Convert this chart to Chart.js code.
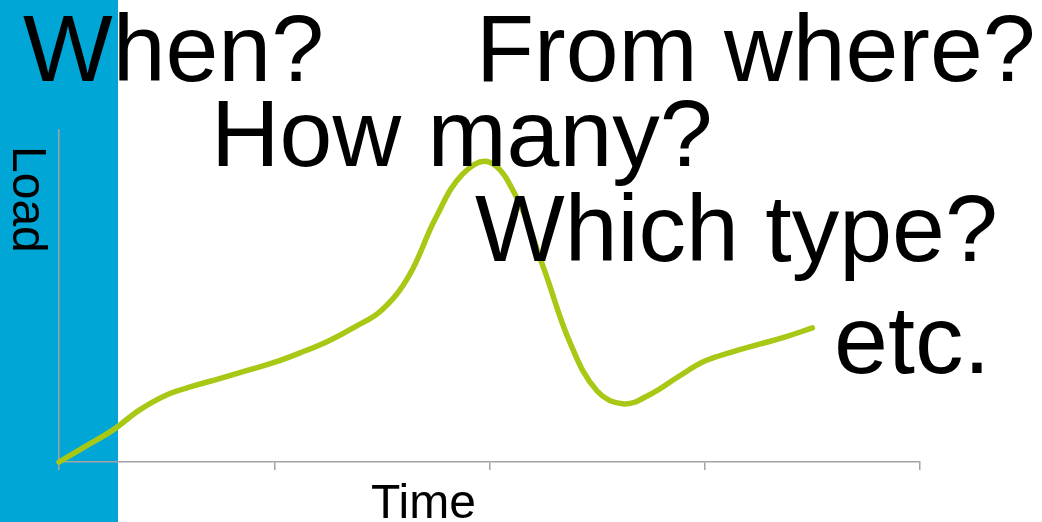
<!DOCTYPE html>
<html>
<head>
<meta charset="utf-8">
<script src="https://cdn.jsdelivr.net/npm/chart.js@4/dist/chart.umd.min.js"></script>
<style>
  html, body { margin: 0; padding: 0; background: #ffffff; }
  #stage { position: relative; width: 1042px; height: 522px; overflow: hidden; }
  #band { position: absolute; left: 0; top: 0; width: 118px; height: 522px; background: #00A6D6; }
  #wrap { position: absolute; left: 0; top: 0; width: 1042px; height: 522px; }
  .q { position: absolute; font-family: "Liberation Sans", Arial, sans-serif; color: #000;
       line-height: 1; white-space: nowrap; font-size: 95px; }
  .axis-label { position: absolute; font-family: "Liberation Sans", Arial, sans-serif; color: #000;
       line-height: 1; white-space: nowrap; font-size: 48px; }
  #load { transform: rotate(90deg); transform-origin: 0 0; }
</style>
</head>
<body>
<div id="stage">
  <div id="band"></div>
  <div id="wrap"><canvas id="chart"></canvas></div>
  <div class="q" style="left:23px; top:1px;">When?</div>
  <div class="q" style="left:476px; top:1px;">From where?</div>
  <div class="q" style="left:211px; top:86px;">How many?</div>
  <div class="q" style="left:475px; top:181px;">Which type?</div>
  <div class="q" style="left:834px; top:291px; font-size:97px;">etc.</div>
  <div class="axis-label" id="load" style="left:53px; top:146px;">Load</div>
  <div class="axis-label" style="left:371px; top:478px;">Time</div>
</div>
<script>
// Load sampled every eighth of a time unit: slow rise, sharp peak, dip, recovery
const timeSteps = [0, 0.125, 0.25, 0.375, 0.5, 0.625, 0.75, 0.875, 1.0, 1.125,
                   1.25, 1.375, 1.5, 1.625, 1.75, 1.875, 2.0, 2.125, 2.25, 2.375,
                   2.5, 2.625, 2.75, 2.875, 3.0, 3.125, 3.25, 3.375, 3.5];
const loadValues = [0, 4.8, 9.6, 15.7, 20.2, 22.9, 25.2, 27.6, 30.0, 33.0,
                    36.4, 40.7, 45.8, 56.0, 73.5, 86.7, 90.3, 79.8, 58.7, 35.8,
                    21.4, 17.5, 20.5, 25.6, 30.4, 33.1, 35.4, 37.7, 40.4];
const timeTicks = [0, 1, 2, 3, 4];
const loadRange = [0, 100];

const points = timeSteps.map((t, i) => ({ x: t, y: loadValues[i] }));
const axisGrey = '#A3A3A3';

new Chart(document.getElementById('chart'), {
  type: 'line',
  data: {
    datasets: [{
      data: points,
      borderColor: '#A8C816',
      borderWidth: 5.5,
      pointRadius: 0,
      tension: 0.4,
      borderCapStyle: 'round',
      borderJoinStyle: 'round',
      clip: false,
      fill: false
    }]
  },
  options: {
    responsive: true,
    maintainAspectRatio: false,
    animation: false,
    devicePixelRatio: 1,
    layout: { autoPadding: false, padding: { top: 130, right: 122, left: 0, bottom: 0 } },
    plugins: { legend: { display: false }, tooltip: { enabled: false }, title: { display: false } },
    scales: {
      x: {
        type: 'linear',
        min: timeTicks[0],
        max: timeTicks[timeTicks.length - 1],
        afterBuildTicks: (scale) => { scale.ticks = timeTicks.map(v => ({ value: v })); },
        afterFit: (scale) => { scale.height = 60; },
        ticks: { display: false },
        grid: { drawOnChartArea: false, drawTicks: true, tickLength: 8, color: axisGrey, lineWidth: 1.5 },
        border: { display: true, color: axisGrey, width: 1.5 }
      },
      y: {
        type: 'linear',
        min: loadRange[0],
        max: loadRange[1],
        afterFit: (scale) => { scale.width = 59; },
        ticks: { display: false },
        grid: { display: false, drawTicks: false },
        border: { display: true, color: axisGrey, width: 1.5 }
      }
    }
  }
});
</script>
</body>
</html>
